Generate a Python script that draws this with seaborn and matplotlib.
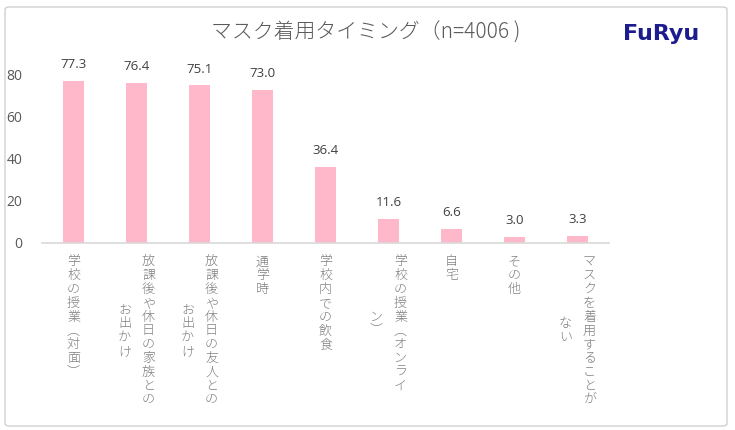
import matplotlib
matplotlib.use("Agg")
import matplotlib.pyplot as plt
import matplotlib.transforms as mtransforms
from matplotlib.patches import FancyBboxPatch
import seaborn as sns
import pandas as pd

categories = [
    "学校の授業（対面）",
    "放課後や休日の家族とのお出かけ",
    "放課後や休日の友人とのお出かけ",
    "通学時",
    "学校内での飲食",
    "学校の授業（オンライン）",
    "自宅",
    "その他",
    "マスクを着用することがない",
]
# label columns as laid out in the reference (vertical text, right-to-left)
label_columns = [
    ["学校の授業︵対面︶"],
    ["放課後や休日の家族との", "お出かけ"],
    ["放課後や休日の友人との", "お出かけ"],
    ["通学時"],
    ["学校内での飲食"],
    ["学校の授業︵オンライ", "ン︶"],
    ["自宅"],
    ["その他"],
    ["マスクを着用することが", "ない"],
]
values = [77.3, 76.4, 75.1, 73.0, 36.4, 11.6, 6.6, 3.0, 3.3]
yticks = [0, 20, 40, 60, 80]
title = "マスク着用タイミング（n=4006 )"

sns.set_theme(style="white")
plt.rcParams["font.family"] = ["Noto Sans CJK JP", "DejaVu Sans"]

W, H = 735, 430
fig = plt.figure(figsize=(W / 100, H / 100), dpi=100)
fig.patch.set_facecolor("white")

# outer frame
fig.patches.append(FancyBboxPatch((5 / W, 4 / H), 722 / W, 419 / H,
                                  boxstyle="round,pad=0,rounding_size=0.006",
                                  transform=fig.transFigure, fill=False,
                                  edgecolor="#d0d0d0", linewidth=1.0))

ymax = 85
px_per_unit = 2.1
bottom_px = 243
top_px = bottom_px - ymax * px_per_unit
ax = fig.add_axes([42 / W, 1 - bottom_px / H, (609 - 42) / W, (bottom_px - top_px) / H])

df = pd.DataFrame({"cat": categories, "val": values})
sns.barplot(data=df, x="cat", y="val", color="#FFB8CA", width=0.32, ax=ax,
            saturation=1)
for p in ax.patches:
    p.set_edgecolor("none")

ax.set_ylim(0, ymax)
ax.set_xlim(-0.5, len(categories) - 0.5)
ax.set_yticks(yticks)
ax.set_yticklabels([str(v) for v in yticks], color="#595959", fontsize=10,
                   family=["Open Sans", "DejaVu Sans"])
ax.tick_params(axis="y", length=0, pad=14)
ax.set_xticks([])
ax.set_xlabel("")
ax.set_ylabel("")
for s in ["left", "right", "top"]:
    ax.spines[s].set_visible(False)
ax.spines["bottom"].set_color("#d9d9d9")
ax.spines["bottom"].set_linewidth(1.2)

for i, v in enumerate(values):
    ax.annotate(f"{v:.1f}", (i, v), xytext=(0, 7), textcoords="offset points",
                ha="center", va="bottom", fontsize=9.5, color="#404040",
                family=["Open Sans", "DejaVu Sans"])

# vertical x labels
blend = mtransforms.blended_transform_factory(ax.transData, fig.transFigure)
top_y = 255
step = 13.8
col_gap = 24
for i, cols in enumerate(label_columns):
    n = len(cols)
    offsets = [(n - 1) / 2 * col_gap - k * col_gap for k in range(n)]
    first_len = len(cols[0])
    center_y = top_y + first_len * step / 2
    for k, col in enumerate(cols):
        if k == 0:
            start = top_y
        else:
            start = center_y - len(col) * step / 2
        for j, ch in enumerate(col):
            yc = start + (j + 0.5) * step
            tr = blend + mtransforms.ScaledTranslation(offsets[k] / 100, 0, fig.dpi_scale_trans)
            fig.text(i, 1 - yc / H, ch, transform=tr, ha="center", va="center",
                     fontsize=9.4, color="#7f7f7f", fontweight="light")

fig.text(366 / W, 1 - 33 / H, title, ha="center", va="center", fontsize=15,
         color="#595959", fontweight="light")
fig.text(661 / W, 1 - 34 / H, "FuRyu", ha="center", va="center", fontsize=16,
         color="#1c1c8f", fontweight="bold", family=["DejaVu Sans"])

fig.savefig("out.png", dpi=100, facecolor="white")
